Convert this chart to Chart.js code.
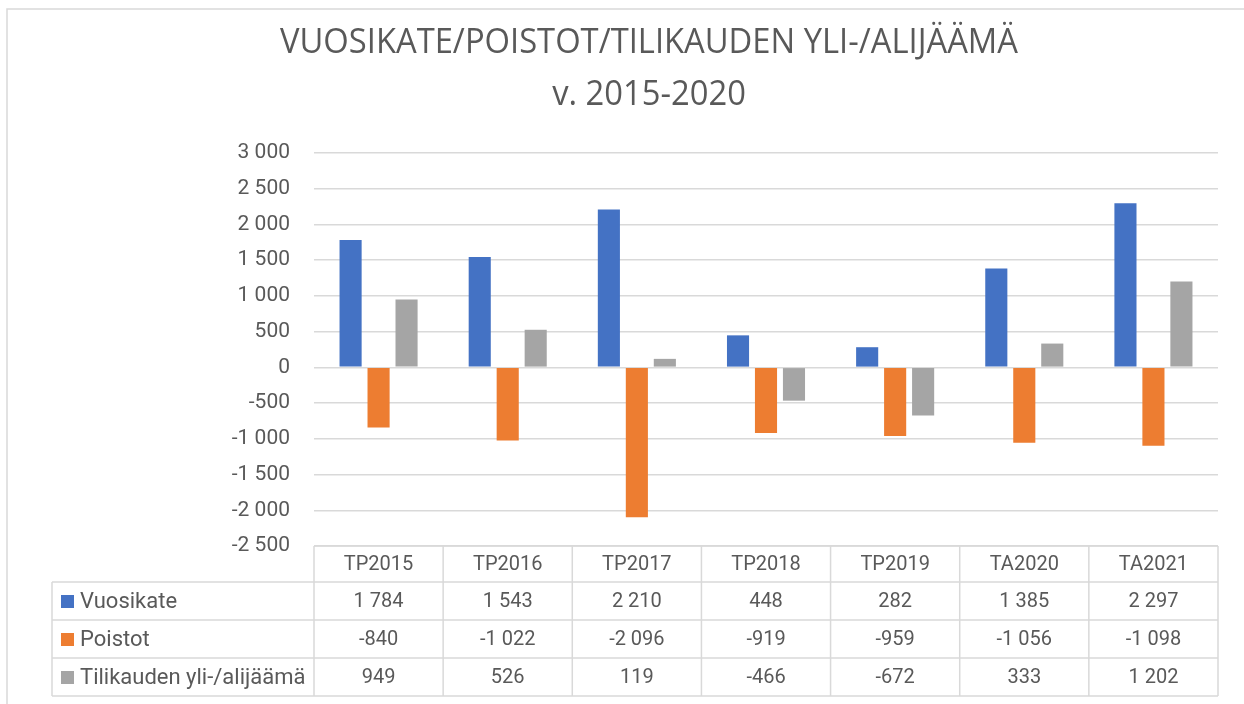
<!DOCTYPE html>
<html>
<head>
<meta charset="utf-8">
<script src="https://cdn.jsdelivr.net/npm/chart.js@4"></script>
<style>
  html, body { margin: 0; padding: 0; background: #fff; }
  #wrap { width: 1244px; height: 704px; }
</style>
</head>
<body>
<div id="wrap"><canvas id="chart" width="1244" height="704"></canvas></div>
<script>
const categories = ["TP2015", "TP2016", "TP2017", "TP2018", "TP2019", "TA2020", "TA2021"];
const seriesNames = ["Vuosikate", "Poistot", "Tilikauden yli-/alijäämä"];
const vuosikate = [1784, 1543, 2210, 448, 282, 1385, 2297];
const poistot = [-840, -1022, -2096, -919, -959, -1056, -1098];
const ylijaama = [949, 526, 119, -466, -672, 333, 1202];
const titleLines = ["VUOSIKATE/POISTOT/TILIKAUDEN YLI-/ALIJÄÄMÄ", "v. 2015-2020"];
const colors = ["#4472C4", "#ED7D31", "#A5A5A5"];

const fmt = v => {
  const s = Math.abs(v).toString().replace(/\B(?=(\d{3})+(?!\d))/g, " ");
  return (v < 0 ? "-" : "") + s;
};

const textColor = "#595959";
const lineColor = "#d9d9d9";

// frame + title (condensed look like the Excel original)
const framePlugin = {
  id: "frame",
  beforeDraw(chart) {
    const ctx = chart.ctx;
    ctx.save();
    ctx.strokeStyle = "#d9d9d9";
    ctx.lineWidth = 1.5;
    ctx.strokeRect(7, 9, 1260, 720);

    ctx.font = "35px 'Open Sans'";
    ctx.fillStyle = textColor;
    ctx.textAlign = "center";
    ctx.textBaseline = "alphabetic";
    const w = ctx.measureText(titleLines[0]).width;
    const k = 738 / w;
    ctx.translate(649, 0);
    ctx.scale(k, 1);
    ctx.fillText(titleLines[0], 0, 53);
    ctx.fillText(titleLines[1], 0, 105);
    ctx.restore();
  }
};

// data table under the plot
const tablePlugin = {
  id: "dataTable",
  afterDraw(chart) {
    const ctx = chart.ctx;
    const x = chart.scales.x;
    const area = chart.chartArea;
    const series = [vuosikate, poistot, ylijaama];
    const half = (x.getPixelForValue(1) - x.getPixelForValue(0)) / 2;
    const top = area.bottom;
    const rowsY = [top, top + 36, top + 74, top + 112, top + 150];
    const left = 52;

    ctx.save();
    ctx.strokeStyle = lineColor;
    ctx.lineWidth = 1.5;
    ctx.beginPath();
    ctx.moveTo(area.left, rowsY[0]); ctx.lineTo(area.right, rowsY[0]);
    for (let r = 1; r < rowsY.length; r++) {
      ctx.moveTo(left, rowsY[r]); ctx.lineTo(area.right, rowsY[r]);
    }
    ctx.moveTo(left, rowsY[1]); ctx.lineTo(left, rowsY[4]);
    categories.forEach((c, i) => {
      const px = x.getPixelForValue(i) - half;
      ctx.moveTo(px, rowsY[0]); ctx.lineTo(px, rowsY[4]);
    });
    ctx.moveTo(area.right, rowsY[0]); ctx.lineTo(area.right, rowsY[4]);
    ctx.stroke();

    ctx.font = "20px Roboto";
    ctx.fillStyle = textColor;
    ctx.textBaseline = "middle";
    ctx.textAlign = "center";
    categories.forEach((c, i) => {
      const cx = x.getPixelForValue(i);
      ctx.fillText(c, cx, (rowsY[0] + rowsY[1]) / 2 + 1);
      series.forEach((s, r) => {
        ctx.fillText(fmt(s[i]), cx, (rowsY[r + 1] + rowsY[r + 2]) / 2 + 1);
      });
    });

    ctx.font = "22px Roboto";
    ctx.textAlign = "left";
    seriesNames.forEach((name, r) => {
      const cy = (rowsY[r + 1] + rowsY[r + 2]) / 2;
      ctx.fillStyle = colors[r];
      ctx.fillRect(61, cy - 6, 13, 13);
      ctx.fillStyle = textColor;
      ctx.fillText(name, 80, cy + 1);
    });
    ctx.restore();
  }
};

const ctx = document.getElementById("chart").getContext("2d");
new Chart(ctx, {
  type: "bar",
  data: {
    labels: categories,
    datasets: [vuosikate, poistot, ylijaama].map((d, i) => ({
      label: seriesNames[i],
      data: d,
      backgroundColor: colors[i],
      barPercentage: 0.79,
      categoryPercentage: 0.65,
    })),
  },
  options: {
    responsive: false,
    animation: false,
    layout: { padding: { left: 0, right: 26, top: 153, bottom: 158 } },
    plugins: {
      legend: { display: false },
      tooltip: { enabled: false },
      title: { display: false },
    },
    scales: {
      x: {
        display: false,
      },
      y: {
        min: -2500,
        max: 3000,
        afterFit: s => { s.width = 314; },
        ticks: {
          stepSize: 500,
          padding: 24,
          color: textColor,
          font: { family: "Roboto", size: 21 },
          callback: v => fmt(v),
        },
        grid: { color: lineColor, lineWidth: 1.5, drawTicks: false },
        border: { display: false },
      },
    },
  },
  plugins: [framePlugin, tablePlugin],
});
</script>
</body>
</html>
